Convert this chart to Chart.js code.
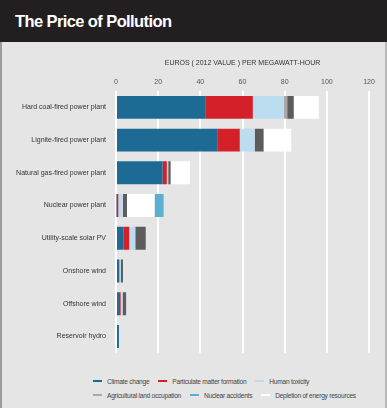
<!DOCTYPE html>
<html>
<head>
<meta charset="utf-8">
<script src="https://cdn.jsdelivr.net/npm/chart.js@4"></script>
<style>
  html, body { margin: 0; padding: 0; }
  body { width: 387px; height: 408px; overflow: hidden; font-family: "Liberation Sans", Arial, sans-serif; }
  .head {
    height: 42px; background: #231f20; color: #fff;
    font-weight: bold; font-size: 16.5px; letter-spacing: -0.6px;
    line-height: 42px; padding-left: 15px; box-sizing: border-box;
  }
  .panel {
    position: relative; height: 366px; background: #e6e5e5;
    border-left: 2px solid #9c9c9c; border-right: 2px solid #b8b8b8; box-sizing: border-box;
  }
  .wrap { position: absolute; left: -2px; top: 0; width: 387px; height: 325px; }
  .legend { position: absolute; left: 91px; top: 332px; font-size: 6.6px; color: #444; letter-spacing: -0.25px; }
  .legend .row { display: flex; height: 14px; align-items: center; }
  .legend .item { display: flex; align-items: center; margin-right: 9px; }
  .legend .sw { width: 9px; height: 2px; margin-right: 5px; }
</style>
</head>
<body>
<div class="head">The Price of Pollution</div>
<div class="panel">
  <div class="wrap"><canvas id="c"></canvas></div>
  <div class="legend" id="legend"></div>
</div>
<script>
// categories (top to bottom)
const plants = [
  "Hard coal-fired power plant",
  "Lignite-fired power plant",
  "Natural gas-fired power plant",
  "Nuclear power plant",
  "Utility-scale solar PV",
  "Onshore wind",
  "Offshore wind",
  "Reservoir hydro"
];

// euros (2012) per MWh, per impact category
const climateChange   = [42.6, 48.0, 22.1, 0.3, 3.5, 1.5, 1.4, 1.4];
const particulate     = [22.3, 10.7, 2.0, 0.8, 2.8, 0.1, 0.8, 0];
const humanToxicity   = [14.7, 7.0, 0.5, 2.1, 2.7, 0.6, 0.9, 0];
const agricultural    = [1.6, 0.2, 0.2, 0.1, 0.2, 0.1, 0.1, 0];
const otherImpacts    = [3.1, 4.1, 1.1, 1.9, 4.9, 1.0, 1.6, 0];
const depletion       = [11.9, 13.1, 9.2, 13.1, 0, 0, 0, 0];
const nuclearAccident = [0, 0, 0, 4.3, 0, 0, 0, 0];

const xTicks = [0, 20, 40, 60, 80, 100, 120];

const series = [
  { label: "Climate change", data: climateChange, color: "#1d6a94" },
  { label: "Particulate matter formation", data: particulate, color: "#d42129" },
  { label: "Human toxicity", data: humanToxicity, color: "#bcdcf0" },
  { label: "Agricultural land occupation", data: agricultural, color: "#a9a9a9" },
  { label: "Other", data: otherImpacts, color: "#5c5c5c" },
  { label: "Depletion of energy resources", data: depletion, color: "#ffffff" },
  { label: "Nuclear accidents", data: nuclearAccident, color: "#5cb0cf" }
];

const tickFont = { family: '"Liberation Sans", Arial, sans-serif', size: 7 };

new Chart(document.getElementById("c"), {
  type: "bar",
  data: {
    labels: plants,
    datasets: series.map(s => ({
      label: s.label,
      data: s.data,
      backgroundColor: s.color,
      borderWidth: 0,
      barPercentage: 0.7,
      categoryPercentage: 1
    }))
  },
  options: {
    indexAxis: "y",
    responsive: true,
    maintainAspectRatio: false,
    animation: false,
    layout: { padding: { left: 0, right: 18, top: 0, bottom: 5 } },
    plugins: { legend: { display: false }, tooltip: { enabled: false } },
    scales: {
      x: {
        position: "top",
        stacked: true,
        min: 0,
        max: 120,
        afterBuildTicks: (axis) => { axis.ticks = xTicks.map(v => ({ value: v })); },
        afterFit: (axis) => { axis.height = 49; },
        grid: { color: "#ffffff", lineWidth: 2, drawTicks: false },
        border: { display: false },
        ticks: { font: tickFont, color: "#555", padding: 5 },
        title: {
          display: true,
          text: "EUROS ( 2012 VALUE ) PER MEGAWATT-HOUR",
          font: { family: '"Liberation Sans", Arial, sans-serif', size: 7 },
          color: "#333",
          padding: { top: 17, bottom: 0 }
        }
      },
      y: {
        stacked: true,
        afterFit: (axis) => { axis.width = 116; },
        // only the bottom boundary line is drawn (white baseline under the bars)
        grid: {
          offset: true,
          drawTicks: false,
          lineWidth: 2,
          color: (ctx) => ctx.index === plants.length ? "#ffffff" : "rgba(0,0,0,0)"
        },
        border: { display: false },
        ticks: { font: tickFont, color: "#333", padding: 10 }
      }
    }
  }
});

// legend in two rows as in the source graphic
const rows = [[0, 1, 2], [3, 6, 5]];
const lg = document.getElementById("legend");
rows.forEach(r => {
  const row = document.createElement("div");
  row.className = "row";
  r.forEach(i => {
    const s = series[i];
    const it = document.createElement("div");
    it.className = "item";
    it.innerHTML = '<span class="sw" style="background:' + s.color + '"></span>' + s.label;
    row.appendChild(it);
  });
  lg.appendChild(row);
});
</script>
</body>
</html>
